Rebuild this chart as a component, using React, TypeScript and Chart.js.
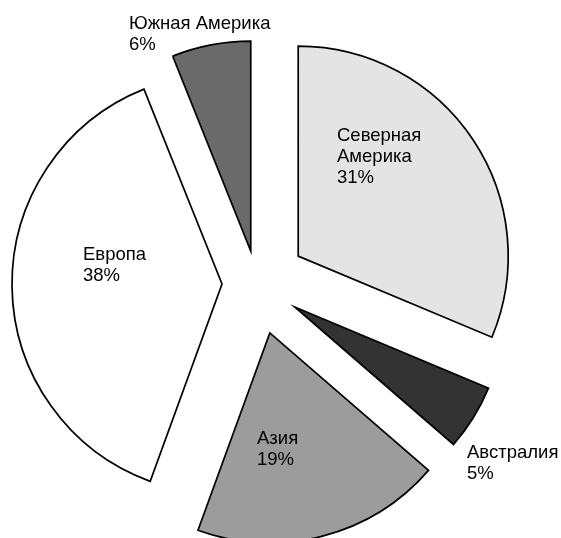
import React, { useEffect, useRef } from 'react';
import { Chart, registerables } from 'chart.js';

Chart.register(...registerables);

// ---- data ----
const categories = ['Северная Америка', 'Австралия', 'Азия', 'Европа', 'Южная Америка'];
const shares = [31, 5, 19, 38, 6];
const labelNames = ['Северная\nАмерика', 'Австралия', 'Азия', 'Европа', 'Южная Америка'];

// ---- styling / layout ----
const fills = ['#e4e4e4', '#333333', '#9c9c9c', '#ffffff', '#6a6a6a'];
const explodeBy = [49.5, 44.5, 51, 35, 33];
const labelAnchors: [number, number][] = [
  [337, 140.5],
  [467, 458],
  [257, 443.5],
  [83, 259.5],
  [129, 28.5],
];
const FONT = '18.5px "Liberation Sans", Arial, sans-serif';
const LINE_H = 21.3;

const explodePlugin = {
  id: 'explodeSlices',
  beforeDatasetsDraw(chart: any) {
    const area = chart.chartArea;
    const cx = (area.left + area.right) / 2;
    const cy = (area.top + area.bottom) / 2;
    const meta = chart.getDatasetMeta(0);
    meta.data.forEach((arc: any, i: number) => {
      const mid = (arc.startAngle + arc.endAngle) / 2;
      arc.x = cx + Math.cos(mid) * explodeBy[i];
      arc.y = cy + Math.sin(mid) * explodeBy[i];
    });
  },
};

const labelPlugin = {
  id: 'sliceLabels',
  afterDatasetsDraw(chart: any) {
    const ctx = chart.ctx;
    ctx.save();
    ctx.font = FONT;
    ctx.fillStyle = '#000000';
    ctx.textAlign = 'left';
    ctx.textBaseline = 'alphabetic';
    labelNames.forEach((name, i) => {
      const lines = [...name.split('\n'), `${shares[i]}%`];
      const [x, y] = labelAnchors[i];
      lines.forEach((ln, k) => ctx.fillText(ln, x, y + k * LINE_H));
    });
    ctx.restore();
  },
};

export default function App() {
  const ref = useRef<HTMLCanvasElement | null>(null);
  useEffect(() => {
    if (!ref.current) return;
    const chart = new Chart(ref.current, {
      type: 'pie',
      data: {
        labels: categories,
        datasets: [
          {
            data: shares,
            backgroundColor: fills,
            borderColor: '#000000',
            borderWidth: 1.7,
            borderJoinStyle: 'miter',
            clip: false,
          } as any,
        ],
      },
      options: {
        animation: false,
        responsive: true,
        maintainAspectRatio: false,
        radius: 210,
        layout: { padding: { left: 0, right: 47, top: 29, bottom: 0 } },
        plugins: {
          legend: { display: false },
          tooltip: { enabled: false },
        },
      } as any,
      plugins: [explodePlugin, labelPlugin],
    });
    return () => chart.destroy();
  }, []);
  return (
    <div style={{ position: 'absolute', left: 0, top: 0, width: 561, height: 538, background: '#fff' }}>
      <canvas ref={ref} />
    </div>
  );
}
